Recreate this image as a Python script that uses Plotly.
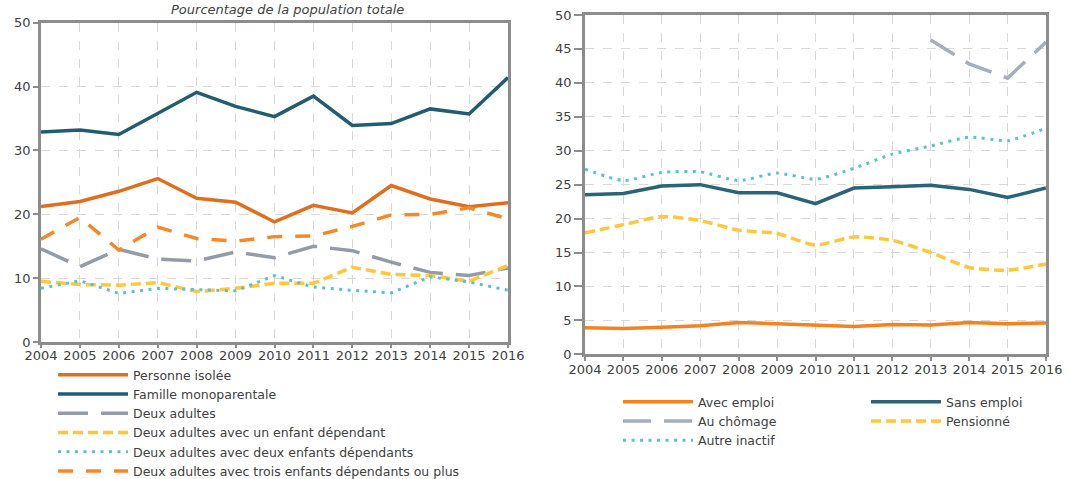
import plotly.graph_objects as go

years = list(range(2004, 2017))

# Left panel: household types
personne_isolee = [21.2, 22.0, 23.6, 25.6, 22.5, 21.9, 18.8, 21.4, 20.2, 24.5, 22.4, 21.2, 21.8]
famille_mono = [32.9, 33.2, 32.5, 35.8, 39.1, 36.9, 35.3, 38.5, 33.9, 34.2, 36.5, 35.7, 41.4]
deux_adultes = [14.6, 11.8, 14.5, 13.0, 12.7, 14.1, 13.2, 15.0, 14.3, 12.5, 10.9, 10.4, 11.6]
un_enfant = [9.5, 9.0, 8.9, 9.3, 7.9, 8.4, 9.2, 9.2, 11.7, 10.6, 10.4, 9.5, 12.0]
deux_enfants = [8.4, 9.6, 7.6, 8.4, 8.2, 8.0, 10.4, 8.6, 8.1, 7.7, 10.2, 9.4, 8.1]
trois_enfants = [16.1, 19.5, 14.4, 18.0, 16.2, 15.8, 16.5, 16.6, 18.1, 19.9, 20.0, 21.0, 19.3]

# Right panel: activity status
avec_emploi = [3.9, 3.8, 4.0, 4.2, 4.7, 4.5, 4.4, 4.1, 4.4, 4.3, 4.7, 4.5, 4.6]
sans_emploi = [23.5, 23.7, 24.8, 25.0, 23.8, 23.8, 22.2, 24.5, 24.7, 24.9, 24.3, 23.1, 24.5]
au_chomage = [None, None, None, None, None, None, None, None, None, 46.3, 42.8, 40.7, 46.0]
pensionne = [17.9, 19.1, 20.3, 19.7, 18.3, 17.8, 16.1, 17.3, 16.8, 15.0, 12.8, 12.4, 13.3]
autre_inactif = [27.3, 25.6, 26.8, 26.9, 25.6, 26.7, 25.8, 27.4, 29.5, 30.7, 32.0, 31.5, 33.3]

title_text = "Pourcentage de la population totale"

W, H = 1073, 479
FONT = "DejaVu Sans"
TXT = "#404040"
AXC = "#8c8c8c"
GRID = "#d9d9d9"

fig = go.Figure()

def add(name, y, color, dash, xa, ya, legend, width=3.5, shape="linear"):
    fig.add_trace(go.Scatter(
        x=years, y=y, name=name, mode="lines",
        line=dict(color=color, width=width, dash=dash, shape=shape, smoothing=0.6),
        xaxis=xa, yaxis=ya, legend=legend, connectgaps=False,
        hoverinfo="skip"))

add("Personne isolée", personne_isolee, "#DE6F1E", "solid", "x", "y", "legend")
add("Famille monoparentale", famille_mono, "#225C70", "solid", "x", "y", "legend")
add("Deux adultes", deux_adultes, "#939BA6", "30px,13px", "x", "y", "legend")
add("Deux adultes avec un enfant dépendant", un_enfant, "#FFC73A", "10px,5px", "x", "y", "legend")
add("Deux adultes avec deux enfants dépendants", deux_enfants, "#5BC0D1", "3px,5.5px", "x", "y", "legend", width=3)
add("Deux adultes avec trois enfants dépendants ou plus", trois_enfants, "#F5892A", "15px,13px", "x", "y", "legend")

add("Avec emploi", avec_emploi, "#F5821F", "solid", "x2", "y2", "legend2")
add("Au chômage", au_chomage, "#A5AFBB", "28px,13px", "x2", "y2", "legend2")
add("Autre inactif", autre_inactif, "#5BC2D2", "3px,5.5px", "x2", "y2", "legend2", width=3, shape="spline")
add("Sans emploi", sans_emploi, "#2A6478", "solid", "x2", "y2", "legend3")
add("Pensionné", pensionne, "#FFC83C", "10px,5px", "x2", "y2", "legend3", shape="spline")

def px(v):
    return v / W

def py(v):
    return (H - v) / H

axis_common = dict(
    showline=True, linecolor=AXC, linewidth=2.5, mirror=True,
    showgrid=True, gridcolor=GRID, griddash="dash", gridwidth=1,
    ticks="outside", ticklen=5, tickcolor=AXC, tickwidth=1.5,
    tickfont=dict(family=FONT, size=13, color=TXT), zeroline=False,
    automargin=False,
)

legend_common = dict(
    font=dict(family=FONT, size=12.5, color=TXT), bgcolor="rgba(0,0,0,0)",
    itemwidth=70, tracegroupgap=0, xanchor="left", yanchor="top",
    orientation="v", itemclick=False, itemdoubleclick=False,
)

fig.update_layout(
    width=W, height=H,
    margin=dict(l=0, r=0, t=0, b=0, autoexpand=False),
    paper_bgcolor="white", plot_bgcolor="white",
    font=dict(family=FONT, color=TXT),
    xaxis=dict(axis_common, domain=[px(41), px(508)], range=[2004, 2016],
               tickvals=years, anchor="y", ticklen=3, ticklabelstandoff=-3),
    yaxis=dict(axis_common, domain=[py(342), py(22.7)], range=[0, 50],
               dtick=10, anchor="x"),
    xaxis2=dict(axis_common, domain=[px(585), px(1046)], range=[2004, 2016],
                tickvals=years, anchor="y2", ticklen=4, ticklabelstandoff=-3),
    yaxis2=dict(axis_common, domain=[py(354.3), py(15)], range=[0, 50],
                dtick=5, anchor="x2", ticklen=8),
    legend=dict(legend_common, x=px(53), y=py(360)),
    legend2=dict(legend_common, x=px(618), y=py(387)),
    legend3=dict(legend_common, x=px(866), y=py(387)),
    annotations=[dict(
        text=title_text, xref="paper", yref="paper",
        x=px(287), y=1, xanchor="center", yanchor="top",
        showarrow=False,
        font=dict(family=FONT, size=13, color=TXT, style="italic"))],
)

fig.write_html("out.html", config={"displayModeBar": False},
               post_script="document.body.style.margin='0px';")
